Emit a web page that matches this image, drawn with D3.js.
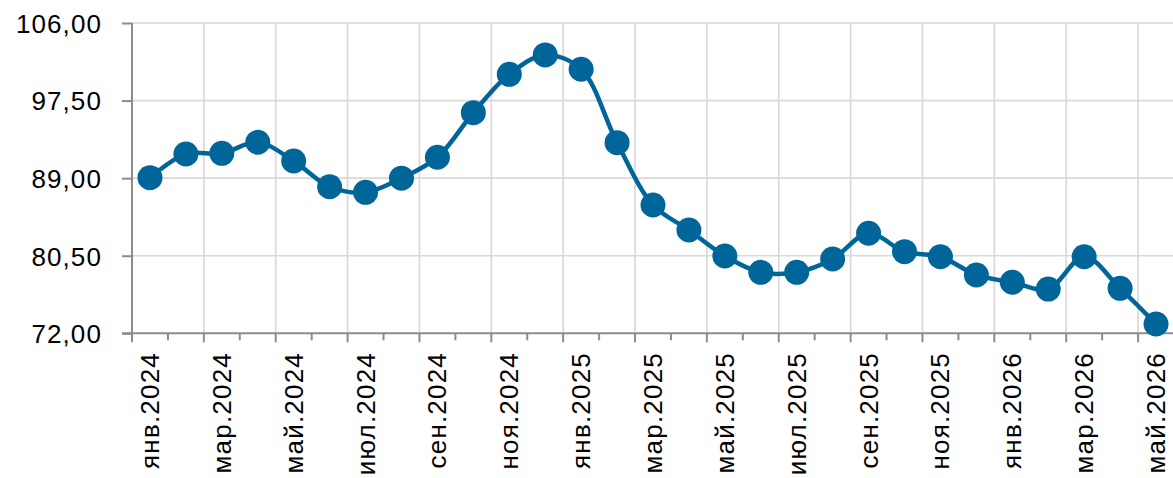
<!DOCTYPE html>
<html><head><meta charset="utf-8">
<script src="https://cdn.jsdelivr.net/npm/d3@7"></script>
<style>html,body{margin:0;padding:0;background:#fff;overflow:hidden}</style>
</head><body>
<svg id="c" width="1173" height="478"></svg>
<script>
const months = ["янв.2024","фев.2024","мар.2024","апр.2024","май.2024","июн.2024","июл.2024","авг.2024","сен.2024","окт.2024","ноя.2024","дек.2024",
"янв.2025","фев.2025","мар.2025","апр.2025","май.2025","июн.2025","июл.2025","авг.2025","сен.2025","окт.2025","ноя.2025","дек.2025",
"янв.2026","фев.2026","мар.2026","апр.2026","май.2026"];
const values = [89.05,91.65,91.72,92.93,90.88,88.06,87.45,89.0,91.29,96.17,100.38,102.5,
100.93,92.89,86.06,83.32,80.47,78.68,78.68,80.14,82.96,80.94,80.39,78.39,
77.59,76.85,80.39,76.93,73.02];
const yTicks = [72,80.5,89,97.5,106];

(function(){
const svg = d3.select("#c");
const pL = 132, pR = 1174, pT = 23, pB = 333.3;
const x = d3.scaleBand().domain(months).range([pL,pR]).paddingInner(0).paddingOuter(0);
const y = d3.scaleLinear().domain([72,106]).range([pB,pT]);
const bw = x.bandwidth();
const fmt = v => d3.format(".2f")(v).replace(".", ",");
const font = "'Liberation Sans', Arial, sans-serif";

svg.append("g").selectAll("line").data(yTicks.filter(d=>d>72)).join("line")
  .attr("x1",pL).attr("x2",1173).attr("y1",d=>y(d)).attr("y2",d=>y(d))
  .attr("stroke","#d9d9d9").attr("stroke-width",1.7);
const bounds = d3.range(0, months.length+1).map(i => pL + i*bw);
svg.append("g").selectAll("line").data(bounds.filter((d,i)=>i>0 && i%2===0)).join("line")
  .attr("x1",d=>d).attr("x2",d=>d).attr("y1",pT).attr("y2",pB)
  .attr("stroke","#d9d9d9").attr("stroke-width",1.7);

const yAxis = d3.axisLeft(y).tickValues(yTicks).tickFormat(fmt).tickSize(10).tickPadding(20);
const gy = svg.append("g").attr("transform",`translate(${pL},0)`).call(yAxis);
gy.select(".domain").attr("stroke","#8c8c8c").attr("stroke-width",2).attr("d",`M0,${pT}V${pB}`);
gy.selectAll(".tick line").attr("stroke","#8c8c8c").attr("stroke-width",2);
gy.selectAll(".tick text").attr("fill","#000").style("font-family",font).style("font-size","26px")
  .style("letter-spacing","1.1px").attr("dy","0.36em");

svg.append("line").attr("x1",pL-10).attr("x2",1173).attr("y1",pB).attr("y2",pB)
  .attr("stroke","#8c8c8c").attr("stroke-width",2);
svg.append("g").selectAll("line").data(bounds).join("line")
  .attr("x1",d=>d).attr("x2",d=>d).attr("y1",pB)
  .attr("y2",(d,i)=> pB + (i%2===0 ? 9 : 7))
  .attr("stroke","#8c8c8c").attr("stroke-width",2);

svg.append("g").selectAll("text").data(months.filter((d,i)=>i%2===0)).join("text")
  .attr("transform",d=>`translate(${x(d)+bw/2+9},352) rotate(-90)`)
  .attr("text-anchor","end")
  .style("font-family",font).style("font-size","26px").style("letter-spacing","1.2px")
  .attr("fill","#000").text(d=>d);

const line = d3.line().x((d,i)=>x(months[i])+bw/2).y(d=>y(d)).curve(d3.curveCatmullRom.alpha(0.5));
svg.append("path").datum(values).attr("d",line).attr("fill","none")
  .attr("stroke","#00669a").attr("stroke-width",4.5);
svg.append("g").selectAll("circle").data(values).join("circle")
  .attr("cx",(d,i)=>x(months[i])+bw/2).attr("cy",d=>y(d)).attr("r",12.5).attr("fill","#00669a");
})();
</script>
</body></html>
